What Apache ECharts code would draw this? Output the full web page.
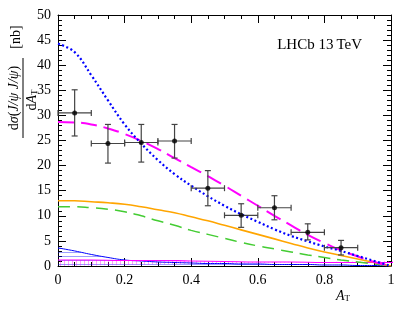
<!DOCTYPE html>
<html><head><meta charset="utf-8">
<script src="https://cdn.jsdelivr.net/npm/echarts@6/dist/echarts.min.js"></script>
<style>html,body{margin:0;padding:0;background:#fff}#c{width:412px;height:318px}</style>
</head><body><div id="c"></div>
<script>
// ---- data ----
const dataX = [0.05,0.15,0.25,0.35,0.45,0.55,0.65,0.75,0.85];
const dataY = [30.5,24.4,24.6,24.9,15.5,10.1,11.6,6.7,3.65];
const errLow = [25.9,20.5,20.7,21.5,12.0,7.7,9.2,5.2,2.2];
const errHigh = [35.1,28.2,28.2,28.2,19.0,12.4,14.0,8.4,5.1];
const binHalf = [0.05,0.05,0.05,0.05,0.05,0.05,0.05,0.05,0.05];

const curveX   = [0,0.05,0.1,0.15,0.2,0.25,0.3,0.35,0.4,0.45,0.5,0.55,0.6,0.65,0.7,0.75,0.8,0.85,0.9,0.95,1];
const blueDot  = [44.3,42.6,38.0,33.0,28.2,24.4,21.1,18.3,16.0,13.9,12.0,10.3,8.8,7.3,6.0,4.9,3.9,3.0,2.0,1.0,0];
const magDash  = [28.7,28.6,28.2,27.4,26.3,24.9,23.3,21.5,19.7,17.9,16.0,14.0,12.0,10.0,8.1,6.2,4.6,3.1,1.9,0.8,0];
const orange   = [13.0,13.0,12.8,12.6,12.3,11.8,11.2,10.6,9.8,9.0,8.1,7.2,6.3,5.4,4.5,3.6,2.8,2.1,1.4,0.7,0];
const green    = [11.8,11.8,11.6,11.3,10.8,10.0,9.0,8.1,7.1,6.3,5.5,4.7,4.0,3.4,2.8,2.2,1.7,1.2,0.8,0.4,0];
const blueThin = [3.6,3.0,2.3,1.7,1.2,1.0,0.8,0.7,0.6,0.5,0.5,0.4,0.4,0.3,0.3,0.3,0.2,0.2,0.1,0.1,0];
const magBandLo= [0.2,0.2,0.2,0.2,0.2,0.2,0.2,0.2,0.2,0.2,0.2,0.2,0.2,0.2,0.2,0.2,0.2,0.2,0.2,0.1,0];
const magBandHi= [1.4,1.4,1.3,1.3,1.2,1.1,1.0,1.0,0.9,0.9,0.9,0.8,0.8,0.8,0.8,0.7,0.7,0.6,0.5,0.3,0];

const xTicks = [0,0.2,0.4,0.6,0.8,1];
const yTicks = [0,5,10,15,20,25,30,35,40,45,50];

// ---- patterns ----
function pattern(fn){const c=document.createElement('canvas');c.width=4;c.height=4;const g=c.getContext('2d');fn(g);return {image:c,repeat:'repeat'};}
const hPat = pattern(g=>{g.fillStyle='rgba(0,0,255,0.55)';g.fillRect(0,0,4,1);});
const vPat = pattern(g=>{g.fillStyle='rgba(255,0,255,0.55)';g.fillRect(0,0,1,4);});

const pair = arr => curveX.map((x,i)=>[x,arr[i]]);
const serif = 'Liberation Serif';

const errData = dataX.map((x,i)=>[x,dataY[i],x-binHalf[i],x+binHalf[i],errLow[i],errHigh[i]]);

const chart = echarts.init(document.getElementById('c'));
function mkAxis(extra, showLabel, labelFmt, minorN){
  return Object.assign({
    type:'value',
    axisLine:{show:true,onZero:false,lineStyle:{color:'#000',width:1}},
    axisTick:{show:true,inside:true,length:8,lineStyle:{color:'#000',width:1}},
    minorTick:{show:true,splitNumber:minorN,length:4,lineStyle:{color:'#000',width:1}},
    splitLine:{show:false},minorSplitLine:{show:false},
    axisLabel:showLabel?{show:true,fontFamily:serif,fontSize:14,color:'#000',margin:7,formatter:labelFmt}:{show:false}
  },extra);
}
const xFmt = v=>{const t=xTicks.find(a=>Math.abs(a-v)<1e-6);return t===undefined?'':String(t);};
const yFmt = v=>{const t=yTicks.find(a=>Math.abs(a-v)<1e-6);return t===undefined?'':String(t);};
chart.setOption({
  animation:false,
  grid:{left:58,right:21,top:15,bottom:52},
  xAxis:[
    mkAxis({min:0,max:1,interval:0.2,position:'bottom'},true,xFmt,4),
    mkAxis({min:0,max:1,interval:0.2,position:'top'},false,null,4)
  ],
  yAxis:[
    mkAxis({min:0,max:50,interval:5,position:'left'},true,yFmt,5),
    mkAxis({min:0,max:50,interval:5,position:'right'},false,null,5)
  ],
  series:[
    {type:'line',data:pair(blueThin),symbol:'none',smooth:true,lineStyle:{color:'#0000ff',width:1},
      areaStyle:{color:hPat,origin:'start'},z:2},
    {type:'line',data:pair(magBandLo),stack:'mb',symbol:'none',smooth:true,lineStyle:{width:0},z:2},
    {type:'line',data:curveX.map((x,i)=>[x,magBandHi[i]-magBandLo[i]]),stack:'mb',symbol:'none',smooth:true,
      lineStyle:{color:'#ff00ff',width:1.2},areaStyle:{color:vPat},z:2},
    {type:'line',data:pair(green),symbol:'none',smooth:true,lineStyle:{color:'#44cc33',width:1.5,type:[12,7]},z:3},
    {type:'line',data:pair(orange),symbol:'none',smooth:true,lineStyle:{color:'#ffa500',width:1.6},z:3},
    {type:'line',data:pair(magDash),symbol:'none',smooth:true,lineStyle:{color:'#ff00ff',width:2,type:[16,7]},z:4},
    {type:'line',data:pair(blueDot),symbol:'none',smooth:0.4,lineStyle:{color:'#0000ff',width:2.2,type:[2,2.5]},z:4},
    {type:'custom',data:errData,z:6,
      renderItem:(params,api)=>{
        const c=api.coord([api.value(0),api.value(1)]);
        const l=api.coord([api.value(2),api.value(1)]);
        const r=api.coord([api.value(3),api.value(1)]);
        const lo=api.coord([api.value(0),api.value(4)]);
        const hi=api.coord([api.value(0),api.value(5)]);
        const st={stroke:'#444',lineWidth:1.2};
        const cap=3;
        return {type:'group',children:[
          {type:'line',shape:{x1:l[0],y1:c[1],x2:r[0],y2:r[1]},style:st},
          {type:'line',shape:{x1:l[0],y1:c[1]-cap,x2:l[0],y2:c[1]+cap},style:st},
          {type:'line',shape:{x1:r[0],y1:c[1]-cap,x2:r[0],y2:c[1]+cap},style:st},
          {type:'line',shape:{x1:c[0],y1:lo[1],x2:hi[0],y2:hi[1]},style:st},
          {type:'line',shape:{x1:c[0]-cap,y1:lo[1],x2:c[0]+cap,y2:lo[1]},style:st},
          {type:'line',shape:{x1:c[0]-cap,y1:hi[1],x2:c[0]+cap,y2:hi[1]},style:st}
        ]};
      }},
    {type:'scatter',data:dataX.map((x,i)=>[x,dataY[i]]),symbol:'circle',symbolSize:5,itemStyle:{color:'#000'},z:7}
  ],
  graphic:[
    {type:'text',x:362,y:45,style:{text:'LHCb 13\u2009TeV',font:'15px "Liberation Serif"',fill:'#000',textAlign:'right',textVerticalAlign:'middle'}},
    {type:'text',x:16,y:37,rotation:Math.PI/2,style:{text:'[nb]',font:'14px "Liberation Serif"',fill:'#000',textAlign:'center',textVerticalAlign:'middle'}},
    {type:'text',x:14,y:98,rotation:Math.PI/2,style:{
      text:'{r|d}{i|σ}{r|(}{i|J/ψ J/ψ}{r|)}',textAlign:'center',textVerticalAlign:'middle',
      rich:{r:{fontFamily:serif,fontSize:14,fill:'#000'},i:{fontFamily:serif,fontStyle:'italic',fontSize:14,fill:'#000'}}}},
    {type:'line',shape:{x1:23,y1:58,x2:23,y2:138},style:{stroke:'#000',lineWidth:1}},
    {type:'text',x:32,y:100,rotation:Math.PI/2,style:{
      text:'{r|d}{i|A}{s|T}',textAlign:'center',textVerticalAlign:'middle',
      rich:{r:{fontFamily:serif,fontSize:14,fill:'#000'},i:{fontFamily:serif,fontStyle:'italic',fontSize:14,fill:'#000'},
        s:{fontFamily:serif,fontSize:9,fill:'#000',padding:[6,0,0,0]}}}},
    {type:'text',x:343,y:296,style:{
      text:'{i|A}{s|T}',textAlign:'center',textVerticalAlign:'middle',
      rich:{i:{fontFamily:serif,fontStyle:'italic',fontSize:14,fill:'#000'},
        s:{fontFamily:serif,fontSize:9,fill:'#000',padding:[6,0,0,0]}}}}
  ]
});
</script></body></html>
